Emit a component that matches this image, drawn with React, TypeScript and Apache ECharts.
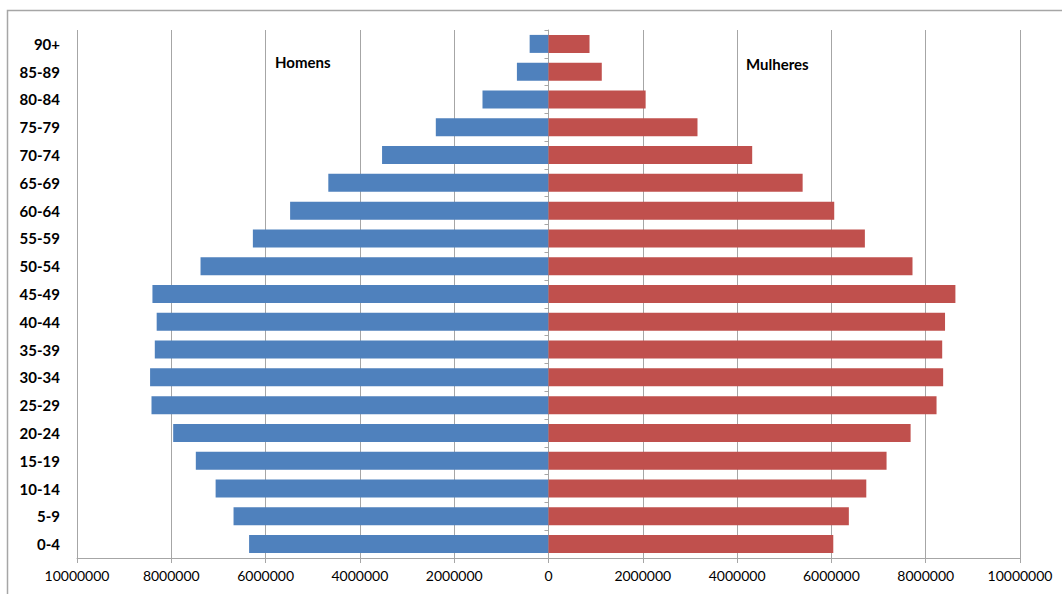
import React, { useEffect, useRef } from "react";
import * as echarts from "echarts";

const categories = ["0-4", "5-9", "10-14", "15-19", "20-24", "25-29", "30-34", "35-39", "40-44", "45-49", "50-54", "55-59", "60-64", "65-69", "70-74", "75-79", "80-84", "85-89", "90+"];
const homens = [6350000, 6680000, 7060000, 7480000, 7960000, 8420000, 8450000, 8350000, 8310000, 8400000, 7380000, 6270000, 5480000, 4670000, 3530000, 2390000, 1400000, 670000, 400000];
const mulheres = [6040000, 6370000, 6740000, 7170000, 7680000, 8230000, 8370000, 8350000, 8410000, 8630000, 7720000, 6710000, 6060000, 5390000, 4320000, 3160000, 2060000, 1130000, 870000];
const xTicks = { min: -10000000, max: 10000000, interval: 2000000 };
const seriesNames = ["Homens", "Mulheres"];

const FONT = "Lato, 'Open Sans', sans-serif";

export default function App() {
  const ref = useRef<HTMLDivElement>(null);
  useEffect(() => {
    if (!ref.current) return;
    const chart = echarts.init(ref.current, undefined, { renderer: "svg" });
    const gridColor = "#a6a6a6";
    chart.setOption({
      animation: false,
      backgroundColor: "#ffffff",
      grid: { left: 77, right: 42, top: 30, bottom: 36, containLabel: false },
      xAxis: {
        type: "value",
        min: xTicks.min,
        max: xTicks.max,
        interval: xTicks.interval,
        axisLine: { show: true, onZero: false, lineStyle: { color: gridColor, width: 1 } },
        axisTick: { show: true, length: 5, lineStyle: { color: gridColor } },
        splitLine: { show: true, lineStyle: { color: gridColor, width: 1 } },
        axisLabel: {
          formatter: (v: number) => String(Math.abs(v)),
          color: "#000",
          fontFamily: FONT,
          fontSize: 14,
          margin: 10,
        },
      },
      yAxis: [
        {
          type: "category",
          data: categories,
          position: "left",
          axisLine: { show: false, onZero: false },
          axisTick: { show: false },
          splitLine: { show: false },
          axisLabel: {
            color: "#000",
            fontFamily: FONT,
            fontSize: 15,
            fontWeight: "bold",
            margin: 17,
          },
        },
        {
          type: "category",
          data: categories,
          position: "left",
          axisLine: { show: true, onZero: true, lineStyle: { color: gridColor, width: 1 } },
          axisTick: { show: true, length: 4, lineStyle: { color: gridColor } },
          splitLine: { show: false },
          axisLabel: { show: false },
        },
      ],
      series: [
        {
          name: seriesNames[0],
          type: "bar",
          yAxisIndex: 0,
          data: homens.map((v) => -v),
          barWidth: 18,
          barGap: "-100%",
          itemStyle: { color: "#4f81bd" },
        },
        {
          name: seriesNames[1],
          type: "bar",
          yAxisIndex: 0,
          data: mulheres,
          barWidth: 18,
          barGap: "-100%",
          itemStyle: { color: "#c0504d" },
        },
      ],
      graphic: [
        {
          type: "rect",
          silent: true,
          shape: { x: 7.5, y: 10.5, width: 1100, height: 640 },
          style: { fill: "none", stroke: "#a6a6a6", lineWidth: 1.5 },
          z: -10,
        },
        {
          type: "text",
          left: 275,
          top: 54,
          style: { text: seriesNames[0], fill: "#000", font: `bold 15px ${FONT}` },
        },
        {
          type: "text",
          left: 746,
          top: 56,
          style: { text: seriesNames[1], fill: "#000", font: `bold 15px ${FONT}` },
        },
      ],
    });
    return () => chart.dispose();
  }, []);
  return <div ref={ref} style={{ position: "absolute", left: 0, top: 0, width: 1062, height: 594 }} />;
}
